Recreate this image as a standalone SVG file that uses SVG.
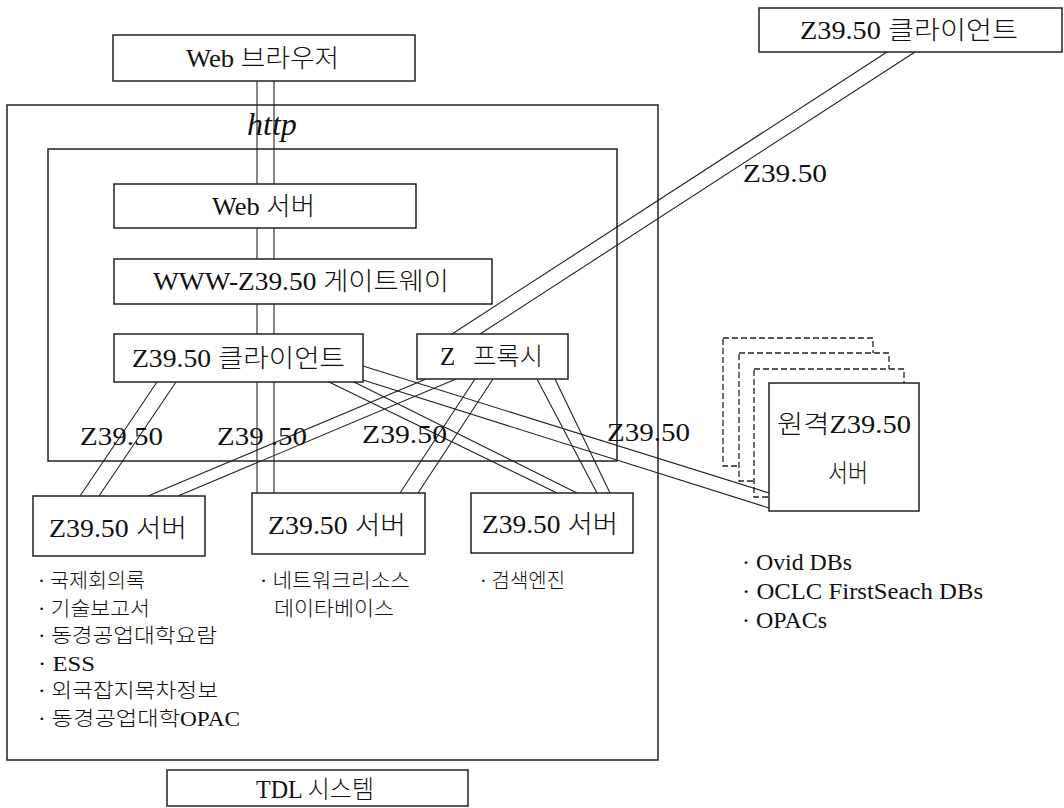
<svg xmlns="http://www.w3.org/2000/svg" width="1064" height="808" viewBox="0 0 1064 808">
<style>
.box{fill:#fff;stroke:#222;stroke-width:1.5}
.frame{fill:none;stroke:#222;stroke-width:1.5}
.dash{fill:#fff;stroke:#222;stroke-width:1.3;stroke-dasharray:6 3}
.ln{stroke:#222;stroke-width:1.1;fill:none}
text{font-family:"Liberation Serif","Noto Sans CJK KR",serif;fill:#111;font-weight:300}
.t{font-size:25px}
.l{font-size:20px}
.r{font-size:23px}
.http{font-size:32px;font-style:italic;font-weight:400}
</style>
<rect width="1064" height="808" fill="#fff"/>

<g id="tdl-frame">
  <rect class="frame" x="7" y="105" width="651" height="655"/>
</g>
<g id="inner-frame">
  <rect class="frame" x="48" y="149" width="569" height="312"/>
</g>

<g id="remote-server">
  <rect class="dash" x="723" y="338" width="150" height="128"/>
  <rect class="dash" x="739" y="353" width="150" height="128"/>
  <rect class="dash" x="754" y="369" width="150" height="128"/>
  <rect class="box" x="769" y="383" width="150" height="128"/>
  <text class="t" x="777" y="433" textLength="134" lengthAdjust="spacingAndGlyphs">원격Z39.50</text>
  <text class="t" x="828" y="482" textLength="40" lengthAdjust="spacingAndGlyphs">서버</text>
</g>

<g id="connectors">
  <line class="ln" x1="257" y1="81" x2="257" y2="493"/>
  <line class="ln" x1="274" y1="81" x2="274" y2="493"/>
  <line class="ln" x1="157" y1="382" x2="80" y2="496"/>
  <line class="ln" x1="176" y1="382" x2="99" y2="496"/>
  <line class="ln" x1="426" y1="379" x2="148" y2="496"/>
  <line class="ln" x1="456" y1="379" x2="178" y2="496"/>
  <line class="ln" x1="329" y1="382" x2="557" y2="493"/>
  <line class="ln" x1="354" y1="382" x2="577" y2="493"/>
  <line class="ln" x1="363" y1="366" x2="769" y2="493"/>
  <line class="ln" x1="363" y1="380" x2="769" y2="508"/>
  <line class="ln" x1="475" y1="379" x2="400" y2="493"/>
  <line class="ln" x1="493" y1="379" x2="418" y2="493"/>
  <line class="ln" x1="537" y1="379" x2="597" y2="493"/>
  <line class="ln" x1="555" y1="379" x2="610" y2="493"/>
  <line class="ln" x1="452" y1="334" x2="887" y2="52"/>
  <line class="ln" x1="480" y1="334" x2="915" y2="52"/>
</g>

<g id="connector-labels">
  <text class="http" x="247" y="135">http</text>
  <text class="t" x="743" y="182" textLength="84" lengthAdjust="spacingAndGlyphs">Z39.50</text>
  <text class="t" x="80" y="445" textLength="83" lengthAdjust="spacingAndGlyphs">Z39.50</text>
  <text class="t" x="217" y="445" textLength="90" lengthAdjust="spacingAndGlyphs">Z39 .50</text>
  <text class="t" x="362" y="443" textLength="85" lengthAdjust="spacingAndGlyphs">Z39.50</text>
  <text class="t" x="607" y="441" textLength="83" lengthAdjust="spacingAndGlyphs">Z39.50</text>
</g>

<g id="web-browser">
  <rect class="box" x="113" y="35" width="302" height="46"/>
  <text class="t" x="186" y="67" textLength="153" lengthAdjust="spacingAndGlyphs">Web 브라우저</text>
</g>
<g id="web-server">
  <rect class="box" x="114" y="184" width="302" height="44"/>
  <text class="t" x="212" y="215" textLength="103" lengthAdjust="spacingAndGlyphs">Web 서버</text>
</g>
<g id="gateway">
  <rect class="box" x="114" y="259" width="378" height="45"/>
  <text class="t" x="153" y="290" textLength="296" lengthAdjust="spacingAndGlyphs">WWW-Z39.50 게이트웨이</text>
</g>
<g id="z3950-client">
  <rect class="box" x="114" y="334" width="249" height="48"/>
  <text class="t" x="132" y="367" textLength="213" lengthAdjust="spacingAndGlyphs">Z39.50 클라이언트</text>
</g>
<g id="z-proxy">
  <rect class="box" x="417" y="334" width="151" height="45"/>
  <text class="t" y="365"><tspan x="440">Z</tspan> <tspan x="473" textLength="70" lengthAdjust="spacingAndGlyphs">프록시</tspan></text>
</g>
<g id="ext-client">
  <rect class="box" x="759" y="8" width="303" height="44"/>
  <text class="t" x="800" y="39" textLength="218" lengthAdjust="spacingAndGlyphs">Z39.50 클라이언트</text>
</g>
<g id="server-left">
  <rect class="box" x="33" y="496" width="172" height="60"/>
  <text class="t" x="49" y="537" textLength="138" lengthAdjust="spacingAndGlyphs">Z39.50 서버</text>
</g>
<g id="server-middle">
  <rect class="box" x="252" y="493" width="173" height="61"/>
  <text class="t" x="268" y="534" textLength="138" lengthAdjust="spacingAndGlyphs">Z39.50 서버</text>
</g>
<g id="server-right">
  <rect class="box" x="471" y="493" width="162" height="60"/>
  <text class="t" x="482" y="533" textLength="136" lengthAdjust="spacingAndGlyphs">Z39.50 서버</text>
</g>

<g id="list-left">
  <text class="l" x="38" y="588" textLength="107" lengthAdjust="spacingAndGlyphs">· 국제회의록</text>
  <text class="l" x="38" y="615.5" textLength="112" lengthAdjust="spacingAndGlyphs">· 기술보고서</text>
  <text class="l" x="38" y="643" textLength="179" lengthAdjust="spacingAndGlyphs">· 동경공업대학요람</text>
  <text class="l" x="38" y="670.5" textLength="57" lengthAdjust="spacingAndGlyphs">· ESS</text>
  <text class="l" x="38" y="698" textLength="180" lengthAdjust="spacingAndGlyphs">· 외국잡지목차정보</text>
  <text class="l" x="38" y="725.5" textLength="202" lengthAdjust="spacingAndGlyphs">· 동경공업대학OPAC</text>
</g>
<g id="list-middle">
  <text class="l" x="260" y="588" textLength="150" lengthAdjust="spacingAndGlyphs">· 네트워크리소스</text>
  <text class="l" x="274" y="615.5" textLength="120" lengthAdjust="spacingAndGlyphs">데이타베이스</text>
</g>
<g id="list-right">
  <text class="l" x="480" y="588" textLength="85" lengthAdjust="spacingAndGlyphs">· 검색엔진</text>
</g>
<g id="list-remote">
  <text class="r" x="742" y="570" textLength="110" lengthAdjust="spacingAndGlyphs">· Ovid DBs</text>
  <text class="r" x="742" y="599" textLength="241" lengthAdjust="spacingAndGlyphs">· OCLC FirstSeach DBs</text>
  <text class="r" x="742" y="628" textLength="85" lengthAdjust="spacingAndGlyphs">· OPACs</text>
</g>

<g id="tdl-system">
  <rect class="box" x="167" y="770" width="301" height="36"/>
  <text class="t" x="256" y="798" textLength="118" lengthAdjust="spacingAndGlyphs">TDL 시스템</text>
</g>
</svg>
